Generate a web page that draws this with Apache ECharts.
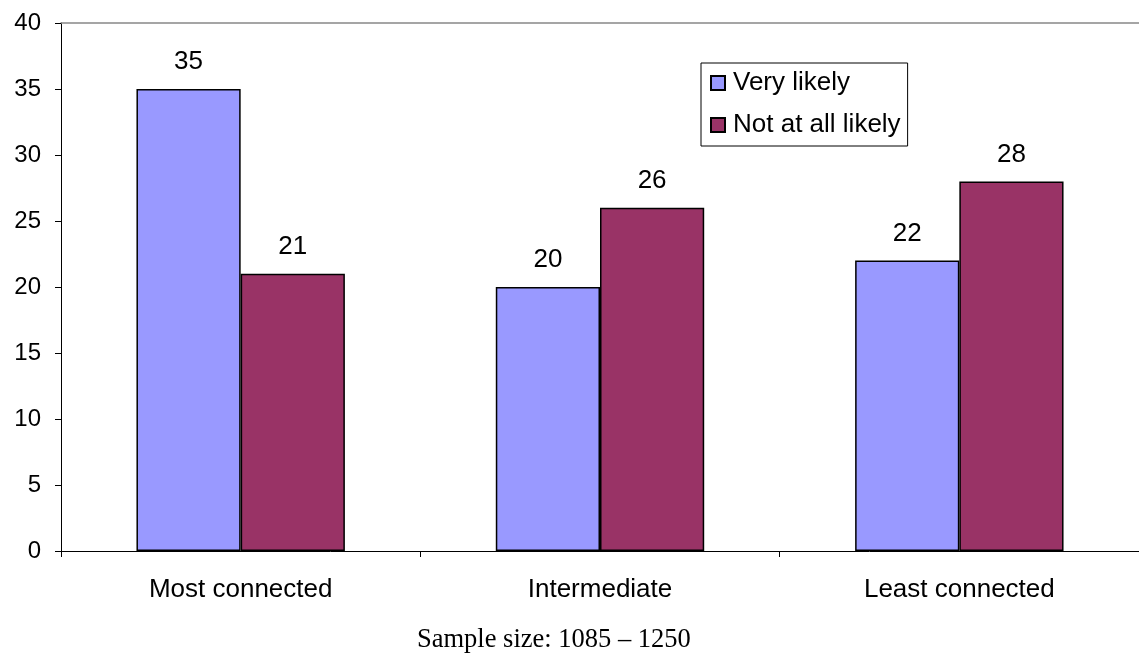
<!DOCTYPE html>
<html><head><meta charset="utf-8">
<script src="https://cdn.jsdelivr.net/npm/echarts@6/dist/echarts.min.js"></script>
<style>html,body{margin:0;padding:0;background:#fff}#c{width:1139px;height:655px}</style>
</head><body><div id="c"></div>
<script>
const categories = ['Most connected', 'Intermediate', 'Least connected'];
const veryLikely = [35, 20, 22];
const notAtAllLikely = [21, 26, 28];
const seriesNames = ['Very likely', 'Not at all likely'];
const yTicks = [0, 5, 10, 15, 20, 25, 30, 35, 40];
const footnote = 'Sample size: 1085 \u2013 1250';

const chart = echarts.init(document.getElementById('c'), null, {renderer: 'canvas'});
const font = 'Liberation Sans, Arial, sans-serif';
const labelCfg = {show: true, position: 'top', distance: 14, color: '#000', fontSize: 26, fontFamily: font};
chart.setOption({
  animation: false,
  grid: {left: 61, top: 23, width: 1078, height: 528, containLabel: false},
  legend: {
    orient: 'vertical', left: 701, top: 63, itemWidth: 14, itemHeight: 14, itemGap: 16,
    padding: [7, 7, 8, 9],
    borderColor: '#000', borderWidth: 1, backgroundColor: '#fff',
    textStyle: {fontSize: 26, fontFamily: font, color: '#000', padding: [0, 0, 0, 3]},
    data: seriesNames.map(n => ({name: n, icon: 'rect'}))
  },
  xAxis: [{
    type: 'category', data: categories, position: 'bottom',
    axisLine: {lineStyle: {color: '#000', width: 1}},
    axisTick: {show: true, length: 6, lineStyle: {color: '#000'}},
    axisLabel: {fontSize: 26, fontFamily: font, color: '#000', margin: 26}
  }, {
    type: 'category', data: categories, position: 'top',
    axisLine: {lineStyle: {color: '#888', width: 1.5}},
    axisTick: {show: false}, axisLabel: {show: false}
  }],
  yAxis: {
    type: 'value', min: yTicks[0], max: yTicks[yTicks.length - 1], interval: 5,
    axisLine: {show: true, lineStyle: {color: '#000'}},
    axisTick: {show: true, length: 6, lineStyle: {color: '#000'}},
    splitLine: {show: false},
    axisLabel: {fontSize: 24, fontFamily: font, color: '#000', margin: 20}
  },
  series: [{
    name: seriesNames[0], type: 'bar', data: veryLikely,
    barGap: '0%', barCategoryGap: '42%',
    itemStyle: {color: '#9999FF', borderColor: '#000', borderWidth: 1.5},
    label: labelCfg
  }, {
    name: seriesNames[1], type: 'bar', data: notAtAllLikely,
    barGap: '0%', barCategoryGap: '42%',
    itemStyle: {color: '#993366', borderColor: '#000', borderWidth: 1.5},
    label: labelCfg
  }],
  graphic: [{
    type: 'text', left: 417, top: 627,
    style: {text: footnote, fontSize: 26.5, fontFamily: 'Liberation Serif, Times New Roman, serif', fill: '#000'}
  }]
});
</script></body></html>
